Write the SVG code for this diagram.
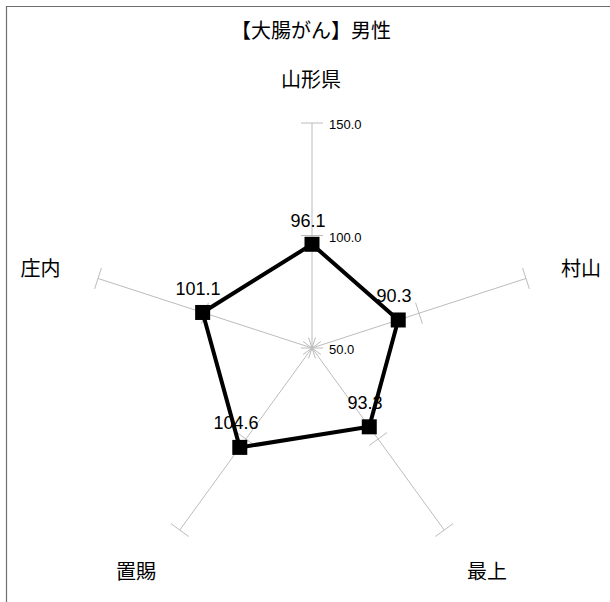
<svg xmlns="http://www.w3.org/2000/svg" width="610" height="602" viewBox="0 0 610 602">
<style>
.ax{stroke:#bcbcbc;stroke-width:1;fill:none}
.cat{font-family:"Noto Sans CJK JP","Liberation Sans",sans-serif;font-size:20px;fill:#000;text-anchor:middle}
.sc{font-family:"Liberation Sans",sans-serif;font-size:13px;fill:#000}
.val{font-family:"Liberation Sans",sans-serif;font-size:18px;fill:#000;text-anchor:middle}
.mk{fill:#000}
</style>
<rect width="610" height="602" fill="#fff"/>
<path d="M6.5,602 V6.5 H610" fill="none" stroke="#6e6e6e" stroke-width="1.2"/>
<text class="cat" x="311" y="38">【大腸がん】男性</text>
<g id="axes" class="ax">
<line x1="312" y1="348" x2="312" y2="123"/>
<line x1="312" y1="348" x2="525.99" y2="278.47"/>
<line x1="312" y1="348" x2="444.25" y2="530.03"/>
<line x1="312" y1="348" x2="179.75" y2="530.03"/>
<line x1="312" y1="348" x2="98.01" y2="278.47"/>
<path d="M301,235.5H323M301,123H323M301,348H323
M415.6,302.78L422.4,323.7M522.59,268.01L529.39,288.93M308.6,337.54L315.4,358.46
M387.03,432.54L369.23,445.48M453.15,523.56L435.35,536.5M320.9,341.53L303.1,354.47
M254.77,445.48L236.97,432.54M188.65,536.5L170.85,523.56M320.9,354.47L303.1,341.53
M208.4,302.78L201.6,323.7M101.41,268.01L94.61,288.93M315.4,337.54L308.6,358.46"/>
</g>
<g id="scale">
<text class="sc" x="329" y="128.5">150.0</text>
<text class="sc" x="329" y="241.5">100.0</text>
<text class="sc" x="329" y="354">50.0</text>
</g>
<g id="cat-labels">
<g id="n-yamagata"><text class="cat" x="311" y="87">山形県</text></g>
<g id="n-murayama"><text class="cat" x="581" y="276">村山</text></g>
<g id="n-mogami"><text class="cat" x="487" y="579">最上</text></g>
<g id="n-okitama"><text class="cat" x="136" y="579">置賜</text></g>
<g id="n-shonai"><text class="cat" x="40.5" y="276">庄内</text></g>
</g>
<g id="connectors">
<polygon points="312,244.28 398.24,319.98 369.27,426.82 239.79,447.39 202.65,312.47" fill="none" stroke="#000" stroke-width="4" stroke-linejoin="miter"/>
</g>
<g id="markers" class="mk">
<rect x="304.5" y="236.78" width="15" height="15"/>
<rect x="390.74" y="312.48" width="15" height="15"/>
<rect x="361.77" y="419.32" width="15" height="15"/>
<rect x="232.29" y="439.89" width="15" height="15"/>
<rect x="195.15" y="304.97" width="15" height="15"/>
</g>
<g id="values">
<text class="val" x="308" y="227">96.1</text>
<text class="val" x="394" y="302">90.3</text>
<text class="val" x="365" y="409">93.3</text>
<text class="val" x="236" y="429">104.6</text>
<text class="val" x="198" y="295">101.1</text>
</g>
</svg>
